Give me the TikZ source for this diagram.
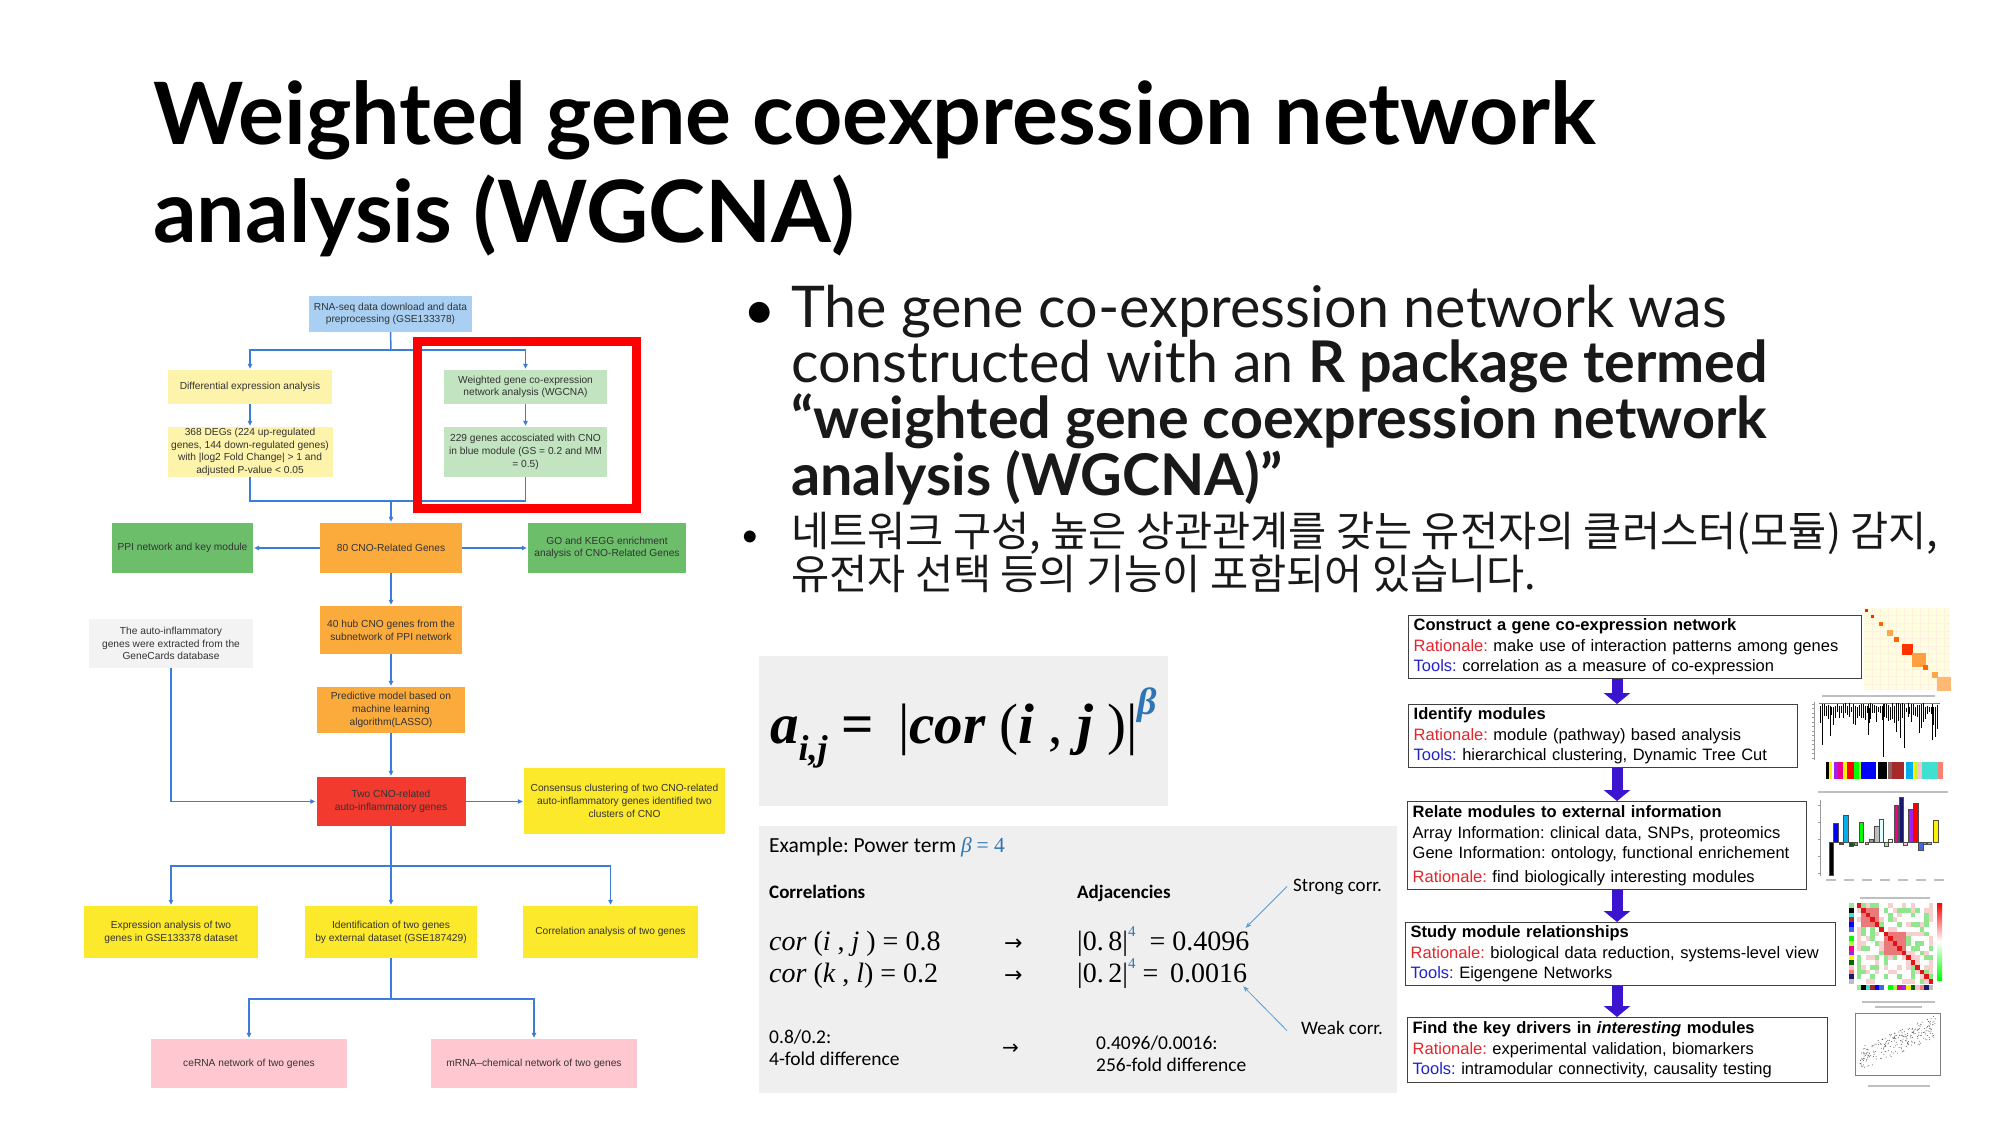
\documentclass[tikz,border=0pt]{standalone}
\usepackage{fontspec}
\setmainfont{Lato}
\newfontfamily\arialfont{Liberation Sans}
\newfontfamily\calfont{Carlito}
\newfontfamily\serifmath{Liberation Serif}
\newfontfamily\cjk{Noto Sans CJK KR}
\newfontfamily\symfont{DejaVu Sans}
\usepackage{tikz}
\usetikzlibrary{arrows.meta,positioning,calc}
\definecolor{flowblue}{HTML}{3C7DD9}
\definecolor{skyfill}{HTML}{A9CFF2}
\definecolor{paleyellow}{HTML}{FEF3AA}
\definecolor{palegreen}{HTML}{C2E4C0}
\definecolor{orangefill}{HTML}{FBAB3B}
\definecolor{greenfill}{HTML}{6DBE6B}
\definecolor{redfill}{HTML}{F23A2F}
\definecolor{greyfill}{HTML}{F3F3F3}
\definecolor{yellowfill}{HTML}{FDE92C}
\definecolor{pinkfill}{HTML}{FFC8D0}
\definecolor{panelgrey}{HTML}{EFEFEF}
\definecolor{betablue}{HTML}{2E75B6}
\definecolor{ratred}{HTML}{E2262B}
\definecolor{toolblue}{HTML}{2323C8}
\definecolor{bigarrow}{HTML}{3A14CF}
\definecolor{pointer}{HTML}{5B9BD5}
\definecolor{framegrey}{HTML}{404040}
% R module colours
\definecolor{rdkgreen}{HTML}{006400}
\definecolor{rgreenyellow}{HTML}{ADFF2F}
\definecolor{rgrey60}{HTML}{999999}
\definecolor{rgrey}{HTML}{BEBEBE}
\definecolor{rlcyan}{HTML}{E0FFFF}
\definecolor{rlgreen}{HTML}{90EE90}
\definecolor{rlyellow}{HTML}{FFFFE0}
\definecolor{rmidnight}{HTML}{191970}
\definecolor{rpink}{HTML}{FFC0CB}
\definecolor{rpurple}{HTML}{A020F0}
\definecolor{rroyal}{HTML}{4169E1}
\definecolor{rsalmon}{HTML}{FA8072}
\definecolor{rtan}{HTML}{D2B48C}
\definecolor{rturq}{HTML}{40E0D0}
\definecolor{rbrown}{HTML}{A52A2A}
\definecolor{rrosy}{HTML}{8B6060}
\definecolor{hm0}{HTML}{8FE68F}
\definecolor{hm1}{HTML}{FFFFFF}
\definecolor{hm2}{HTML}{F7CFCF}
\definecolor{hm3}{HTML}{EA7A7A}
\definecolor{hm4}{HTML}{E01414}
\tikzset{
  fbox/.style={align=center,font=\arialfont\fontsize{10.2}{12.7}\selectfont,text=black!80,inner sep=1pt},
  flow/.style={-{Triangle[length=5pt,width=4.5pt]},draw=flowblue,line width=1.5pt,shorten >=1pt},
  flowline/.style={draw=flowblue,line width=1.5pt},
  stepcard/.style={draw=framegrey,line width=1.3pt,anchor=north west,align=left,inner xsep=5pt,inner ysep=2pt,font=\arialfont\fontsize{16.5}{20.5}\selectfont},
  bigarr/.style={-{Triangle[length=11pt,width=26pt]},draw=bigarrow,line width=11pt},
  ptr/.style={-{Stealth[length=6pt,width=4.5pt]},draw=pointer,line width=0.8pt},
  txt/.style={inner sep=0pt,anchor=base west},
  tiny/.style={draw=black!35,line width=0.6pt}
}
\begin{document}
\frenchspacing
\begin{tikzpicture}[x=1pt,y=-1pt]
\useasboundingbox (0,0) rectangle (2000,1125);
\fill[white] (0,0) rectangle (2000,1125);

% title and bullets (base = last line)
\node[txt,align=left,font=\bfseries\fontsize{86}{98}\selectfont] (title) at (153,242) {Weighted gene coexpression network\\analysis (WGCNA)};
\node[inner sep=0pt,anchor=base,font=\fontsize{56}{56}\selectfont] (dot1) at (760,329) {•};
\node[txt,align=left,font=\fontsize{57.5}{55.5}\selectfont,text=black!90] (bullet1) at (791,495) {The gene co-expression network was\\constructed with an \textbf{R package termed}\\\textbf{“weighted gene coexpression network}\\\textbf{analysis (WGCNA)”}};
\node[inner sep=0pt,anchor=base,font=\fontsize{32}{32}\selectfont] (dot2) at (750,546) {•};
\node[txt,align=left,font=\cjk\fontsize{41.5}{43}\selectfont,text=black!90] (bullet2) at (791,589) {네트워크 구성, 높은 상관관계를 갖는 유전자의 클러스터(모듈) 감지,\\유전자 선택 등의 기능이 포함되어 있습니다.};

% flowchart
\node[fbox,fill=skyfill,minimum width=163,minimum height=36] (rnaseq) at (390.5,314) {RNA-seq data download and data\\preprocessing (GSE133378)};
\node[fbox,fill=paleyellow,minimum width=164,minimum height=34] (diffexp) at (250,387) {Differential expression analysis};
\node[fbox,fill=palegreen,minimum width=163,minimum height=34] (wgcna) at (525.5,387) {Weighted gene co-expression\\network analysis (WGCNA)};
\node[fbox,fill=paleyellow,minimum width=165,minimum height=50] (degs) at (250,452) {368 DEGs (224 up-regulated\\genes, 144 down-regulated genes)\\with |log2 Fold Change| > 1 and\\adjusted P-value < 0.05};
\node[fbox,fill=palegreen,minimum width=163,minimum height=50] (modgenes) at (525.5,452) {229 genes accosciated with CNO\\in blue module (GS = 0.2 and MM\\= 0.5)};
\node[fbox,fill=orangefill,minimum width=142,minimum height=50] (cnogenes) at (391,548) {80 CNO-Related Genes};
\node[fbox,fill=greenfill,minimum width=141,minimum height=50] (ppi) at (182.5,548) {PPI network and key module};
\node[fbox,fill=greenfill,minimum width=158,minimum height=50] (gokegg) at (607,548) {GO and KEGG enrichment\\analysis of CNO-Related Genes};
\node[fbox,fill=orangefill,minimum width=142,minimum height=48] (hubgenes) at (391,630) {40 hub CNO genes from the\\subnetwork of PPI network};
\node[fbox,fill=greyfill,minimum width=164,minimum height=49] (genecards) at (171,643.5) {The auto-inflammatory\\genes were extracted from the\\GeneCards database};
\node[fbox,fill=orangefill,minimum width=148,minimum height=46] (lasso) at (391,710) {Predictive model based on\\machine learning\\algorithm(LASSO)};
\node[fbox,fill=redfill,minimum width=149,minimum height=49] (twogenes) at (391,801.5) {Two CNO-related\\auto-inflammatory genes};
\node[fbox,fill=yellowfill,minimum width=201,minimum height=66] (consensus) at (624.5,801) {Consensus clustering of two CNO-related\\auto-inflammatory genes identified two\\clusters of CNO};
\node[fbox,fill=yellowfill,minimum width=174,minimum height=52] (exprana) at (171,932) {Expression analysis of two\\genes in GSE133378 dataset};
\node[fbox,fill=yellowfill,minimum width=172,minimum height=52] (extdata) at (391,932) {Identification of two genes\\by external dataset (GSE187429)};
\node[fbox,fill=yellowfill,minimum width=175,minimum height=52] (corana) at (610.5,932) {Correlation analysis of two genes};
\node[fbox,fill=pinkfill,minimum width=196,minimum height=49] (cerna) at (249,1063.5) {ceRNA network of two genes};
\node[fbox,fill=pinkfill,minimum width=206,minimum height=49] (chemnet) at (534,1063.5) {mRNA–chemical network of two genes};

\coordinate (split1) at (391,350);
\coordinate (merge) at (391,501);
\coordinate (split2) at (391,866);
\coordinate (split3) at (391,999);
\draw[flowline] (rnaseq.south) -- (split1);
\draw[flow] (split1) -| (diffexp.north);
\draw[flow] (split1) -| (wgcna.north);
\draw[flow] (diffexp) -- (degs);
\draw[flow] (wgcna) -- (modgenes);
\draw[flowline] (degs.south) |- (merge) -| (modgenes.south);
\draw[flow] (merge) -- (cnogenes.north);
\draw[flow] (cnogenes.west) -- (ppi.east);
\draw[flow] (cnogenes.east) -- (gokegg.west);
\draw[flow] (cnogenes) -- (hubgenes);
\draw[flow] (hubgenes) -- (lasso);
\draw[flow] (lasso) -- (twogenes);
\draw[flow] (genecards.south) |- (twogenes.west);
\draw[flow] (twogenes.east) -- (twogenes.east -| consensus.west);
\draw[flowline] (twogenes.south) -- (split2);
\draw[flow] (split2) -| (exprana.north);
\draw[flow] (split2) -- (extdata.north);
\draw[flow] (split2) -| (corana.north);
\draw[flowline] (extdata.south) -- (split3);
\draw[flow] (split3) -| (cerna.north);
\draw[flow] (split3) -| (chemnet.north);
\draw[red,line width=9pt] (417,341.5) rectangle (636,508.5);

% adjacency formula
\node[fill=panelgrey,minimum width=409,minimum height=150,inner sep=0pt] (formulabox) at (963.5,731) {};
\node[txt,font=\serifmath\fontsize{57}{57}\selectfont] (adjformula) at (770,743) {{\bfseries\itshape a}\raisebox{-0.3em}{\fontsize{36}{36}\selectfont\bfseries\itshape i,j} {\bfseries =}\, |{\bfseries\itshape cor} ({\bfseries\itshape i} , {\bfseries\itshape j} )|\raisebox{0.5em}{\fontsize{38}{38}\selectfont\bfseries\itshape\color{betablue}β}};

\node[fill=panelgrey,minimum width=638,minimum height=267,inner sep=0pt] (expanel) at (1078,959.5) {};
\node[txt,font=\calfont\fontsize{21.5}{24}\selectfont] (example) at (769,852) {Example: Power term {\serifmath\itshape\color{betablue}β} {\serifmath\color{betablue}= 4}};
\node[txt,font=\calfont\bfseries\fontsize{19}{22}\selectfont] (corhead) at (769,898) {Correlations};
\node[txt,font=\calfont\bfseries\fontsize{19}{22}\selectfont] (adjhead) at (1077,898) {Adjacencies};
\node[txt,font=\calfont\fontsize{19}{22}\selectfont] (strong) at (1293,891) {Strong corr.};
\node[txt,font=\calfont\fontsize{19}{22}\selectfont] (weak) at (1301,1034) {Weak corr.};
\node[txt,font=\serifmath\fontsize{28}{28}\selectfont] (cor1) at (769,950) {{\itshape cor} ({\itshape i} , {\itshape j} ) = 0.8};
\node[txt,font=\serifmath\fontsize{28}{28}\selectfont] (cor2) at (769,982) {{\itshape cor} ({\itshape k} , {\itshape l}) = 0.2};
\node[txt,font=\symfont\fontsize{22}{22}\selectfont] (arr1) at (1004,950) {→};
\node[txt,font=\symfont\fontsize{22}{22}\selectfont] (arr2) at (1004,982) {→};
\node[txt,font=\serifmath\fontsize{28}{28}\selectfont] (adj1) at (1077,950) {|0.\,8|\raisebox{0.5em}{\fontsize{15}{15}\selectfont\color{betablue}4}\ \ = 0.4096};
\node[txt,font=\serifmath\fontsize{28}{28}\selectfont] (adj2) at (1077,982) {|0.\,2|\raisebox{0.5em}{\fontsize{15}{15}\selectfont\color{betablue}4}\ = \,0.0016};
\node[txt,align=left,font=\calfont\fontsize{19.5}{22}\selectfont] (fold1) at (769,1065) {0.8/0.2:\\4-fold difference};
\node[txt,font=\symfont\fontsize{20}{20}\selectfont] (arr3) at (1002,1054) {→};
\node[txt,align=left,font=\calfont\fontsize{19.5}{22}\selectfont] (fold2) at (1096,1071) {0.4096/0.0016:\\256-fold difference};
\draw[ptr] ([xshift=-6pt]strong.west) -- ([shift={(-4pt,-2pt)}]adj1.north east);
\draw[ptr] ([xshift=-14pt,yshift=-10pt]weak.north west) -- ([shift={(-4pt,2pt)}]adj2.south east);

% WGCNA steps
\node[stepcard,text width=443,minimum height=63] (construct) at (1408,615) {\textbf{Construct a gene co-expression network}\\\textcolor{ratred}{Rationale:} make use of interaction patterns among genes\\\textcolor{toolblue}{Tools:} correlation as a measure of co-expression};
\node[stepcard,text width=379,minimum height=63] (modules) at (1408,704) {\textbf{Identify modules}\\\textcolor{ratred}{Rationale:} module (pathway) based analysis\\\textcolor{toolblue}{Tools:} hierarchical clustering, Dynamic Tree Cut};
\node[stepcard,text width=389,minimum height=88] (relate) at (1407,801) {\textbf{Relate modules to external information}\\Array Information: clinical data, SNPs, proteomics\\Gene Information: ontology, functional enrichement\\[3pt]\textcolor{ratred}{Rationale:} find biologically interesting modules};
\node[stepcard,text width=420,minimum height=63] (relations) at (1405,922) {\textbf{Study module relationships}\\\textcolor{ratred}{Rationale:} biological data reduction, systems-level view\\\textcolor{toolblue}{Tools:} Eigengene Networks};
\node[stepcard,text width=410,minimum height=65] (drivers) at (1407,1017) {\textbf{Find the key drivers in \textit{interesting} modules}\\\textcolor{ratred}{Rationale:} experimental validation, biomarkers\\\textcolor{toolblue}{Tools:} intramodular connectivity, causality testing};
\coordinate (spine) at (1617,0);
\draw[bigarr] (construct.south -| spine) -- (modules.north -| spine);
\draw[bigarr] (modules.south -| spine) -- (relate.north -| spine);
\draw[bigarr] (relate.south -| spine) -- (relations.north -| spine);
\draw[bigarr] (relations.south -| spine) -- (drivers.north -| spine);

% TOM heatmap
\fill[yellow!12] (1864,608) rectangle (1950,690);
\foreach \g in {1872,1880,...,1944} {\draw[orange!12,line width=0.6pt] (\g,608) -- (\g,690); \draw[orange!12,line width=0.6pt] (1864,{608+(\g-1864)*0.953}) -- (1950,{608+(\g-1864)*0.953});}
\foreach \t/\s/\c in {0.03/3/red!80!orange,0.1/3/red!70!orange,0.2/4/orange!80!red,0.3/6/orange!70,0.38/5/orange!80!red,0.5/11/red!60!orange,0.64/14/orange!75,0.72/5/orange!80!red,0.82/6/orange!70,0.93/14/orange!55}
  \fill[\c] ({1864+86*\t-\s/2},{608+82*\t-\s/2}) rectangle ++(\s,\s);

% dendrogram
\fill[black!25] (1822,695) rectangle (1935,697);
\draw[black!40,line width=0.5pt] (1814,702) -- (1814,760);
\foreach \k in {0,...,12} \draw[black!40,line width=0.4pt] (1812,{704+4.5*\k}) -- (1814,{704+4.5*\k});
\draw[black!50,line width=0.5pt] (1819,703) -- (1940,703);
\pgfmathsetseed{11}
\foreach \k in {0,...,60} {
  \pgfmathsetmacro\dx{1820+\k*1.95}
  \pgfmathsetmacro\dt{703+5*rnd}
  \pgfmathsetmacro\db{712+32*rnd*rnd}
  \draw[black,line width=0.5pt] (\dx,\dt) -- (\dx,\db);
}
\foreach \dx/\db in {1822/745,1868/735,1883/757,1896/732,1904/748,1921/728,1932/740}
  \draw[black,line width=0.6pt] (\dx,704) -- (\dx,\db);
\foreach \xa/\xb/\c in {1826/1829/black,1829/1832/yellow,1834/1838/rpurple,1838/1843/magenta,1843/1847/yellow,1847/1854/red,1854/1859/green,1859/1861/rgreenyellow,1861/1876/blue,1878/1887/black,1888/1892/rrosy,1892/1904/rbrown,1906/1913/cyan,1913/1915/yellow,1915/1917/rgreenyellow,1917/1922/rpink,1922/1938/rturq,1938/1943/rsalmon}
  \fill[\c] (\xa,762) rectangle (\xb,779);

% module significance bars
\fill[black!25] (1818,791) rectangle (1948,793);
\draw[black!40,line width=0.5pt] (1820,800) -- (1820,876);
\foreach \k in {0,...,4} \draw[black!40,line width=0.4pt] (1818,{805+17*\k}) -- (1820,{805+17*\k});
\foreach \xa/\xb/\h/\c in {1829.3/1832.7/-32.7/black,1833.3/1837.7/19/blue,1839/1842.7/-1.7/rbrown,1843.3/1848.3/27/cyan,1849/1853.3/-4.3/rdkgreen,1854/1857.3/-2.7/rgrey60,1859/1863.3/20/green,1865/1868.3/-2/rgreenyellow,1869.3/1872.7/2.7/rgrey60,1874/1878.7/15.7/rgrey,1879.3/1883.3/22.7/rlcyan,1884/1887.7/-4/rlgreen,1888.3/1891.7/3.3/rlyellow,1894/1898.3/36.7/magenta,1898.7/1902.7/45/rmidnight,1903.3/1906.7/-3.3/rpink,1908.3/1912.7/32.7/rpurple,1913.3/1917.7/39.3/red,1918.3/1922.7/-8.3/rroyal,1923.3/1926/-2/rsalmon,1927.3/1930.7/-1.7/rtan,1933.3/1937.7/21.7/yellow}
  \filldraw[fill=\c,draw=black!70,line width=0.2pt] (\xa,842) rectangle (\xb,{842-(\h)});
\foreach \k in {0,...,6} \fill[black!25] ({1826+18*\k},879) rectangle ++(10,1.5);

% eigengene adjacency heatmap
\fill[black!25] (1860,897) rectangle (1930,899);
\pgfmathsetseed{5}
\foreach \i in {0,...,16} {
  \foreach \j in {0,...,16} {
    \pgfmathtruncatemacro\k{\i==\j ? 4 : (((\i>=1 && \i<=4 && \j>=1 && \j<=4) || (\i>=6 && \i<=10 && \j>=6 && \j<=10)) ? 3 : (rnd<0.25 ? 0 : (rnd<0.6 ? 1 : 2)))}
    \fill[hm\k] ({1857+4.47*\j},{903+4.76*\i}) rectangle ++(4.47,4.76);
  }
}
\foreach \c [count=\n from 0] in {rlgreen,black,rturq,rbrown,blue,rroyal,white,green,rgreenyellow,magenta,rpurple,yellow,rdkgreen,rpink,rsalmon,rmidnight,rgrey}
  {\fill[\c] (1849,{903+4.76*\n}) rectangle ++(5,4.76);
   \fill[\c] ({1857+4.47*\n},985) rectangle ++(4.47,5);}
\shade[top color=red,bottom color=green,middle color=white] (1937,903) rectangle (1942,980);

% membership scatter
\fill[black!25] (1862,1001) rectangle (1935,1003);
\fill[black!25] (1875,1006) rectangle (1922,1008);
\draw[black!50,line width=0.5pt] (1855,1013) rectangle (1940,1075);
\pgfmathsetseed{3}
\foreach \n in {1,...,230} {
  \pgfmathsetmacro\u{rnd}
  \pgfmathsetmacro\w{0.55*\u+0.4*rnd}
  \fill[black!70] ({1860+76*\u},{1070-58*\w}) circle (0.5);
}
\fill[black!25] (1868,1085) rectangle (1930,1087);
\end{tikzpicture}
\end{document}
